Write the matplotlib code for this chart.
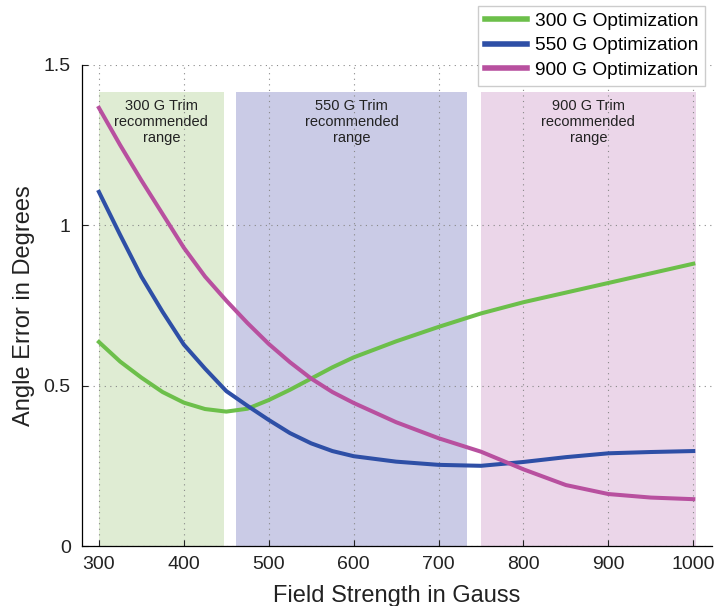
import matplotlib
matplotlib.use("Agg")
import matplotlib.pyplot as plt

# field strength samples (Gauss)
field = [300, 325, 350, 375, 400, 425, 450, 475, 500, 525, 550, 575, 600,
         650, 700, 750, 800, 850, 900, 950, 1000]

# angle error for each optimization
err300 = [0.636, 0.575, 0.525, 0.48, 0.447, 0.427, 0.419, 0.428, 0.455, 0.487, 0.522,
          0.557, 0.588, 0.638, 0.683, 0.725, 0.76, 0.79, 0.82, 0.85, 0.88]
err550 = [1.104, 0.97, 0.84, 0.73, 0.628, 0.553, 0.483, 0.437, 0.393, 0.352, 0.32,
          0.296, 0.28, 0.263, 0.253, 0.25, 0.262, 0.277, 0.289, 0.293, 0.296]
err900 = [1.366, 1.25, 1.14, 1.035, 0.93, 0.84, 0.765, 0.695, 0.63, 0.573, 0.522,
          0.48, 0.446, 0.386, 0.336, 0.294, 0.239, 0.19, 0.162, 0.151, 0.146]

labels = ["300 G Optimization", "550 G Optimization", "900 G Optimization"]

# recommended trim ranges
rangeStart = [300, 462, 750]
rangeEnd = [447, 733, 1003]
rangeText = ["300 G Trim\nrecommended\nrange", "550 G Trim\nrecommended\nrange",
             "900 G Trim\nrecommended\nrange"]

lineColours = ["#6cbf4a", "#2e4fa6", "#b8509f"]
shadeColours = ["#dfecd3", "#cacbe6", "#ebd6e9"]

plt.rcParams['font.family'] = ['Liberation Sans', 'DejaVu Sans']

fig = plt.figure(figsize=(7.25, 6.06), dpi=100)
ax = fig.add_axes([0.113, 0.099, 0.869, 0.794])

shadeTop = 1.415
for s, e, txt, c in zip(rangeStart, rangeEnd, rangeText, shadeColours):
    ax.axvspan(s, e, ymin=0, ymax=shadeTop / 1.5, color=c, lw=0, zorder=0)
    ax.text((s + e) / 2, 1.395, txt, ha="center", va="top", fontsize=10.5,
            color="#222222", linespacing=1.2, zorder=1)

for y, c, lab in zip([err300, err550, err900], lineColours, labels):
    ax.plot(field, y, color=c, lw=2.9, label=lab, zorder=3)

ax.set_xlim(280, 1022)
ax.set_ylim(0, 1.5)
ax.set_xticks([300, 400, 500, 600, 700, 800, 900, 1000])
ax.set_yticks([0, 0.5, 1, 1.5])
ax.set_yticklabels(["0", "0.5", "1", "1.5"])
ax.grid(True, linestyle=(0, (1, 4)), color="#888888", lw=0.8, zorder=0.5)
ax.tick_params(direction="in", labelsize=14, length=4, width=0.8, colors="#222222")
ax.tick_params(axis="y", pad=8)
ax.tick_params(axis="x", pad=7)
for side in ["top", "right"]:
    ax.spines[side].set_visible(False)
for side in ["left", "bottom"]:
    ax.spines[side].set_linewidth(0.9)

ax.set_xlabel("Field Strength in Gauss", fontsize=17, color="#222222", labelpad=9)
ax.set_ylabel("Angle Error in Degrees", fontsize=17, color="#222222", labelpad=6)

leg = fig.legend(loc="upper right", bbox_to_anchor=(0.978, 0.997), fontsize=13.8,
                 handlelength=2.2, handletextpad=0.4, labelspacing=0.38,
                 borderpad=0.35, borderaxespad=0.2, fancybox=False, framealpha=1,
                 edgecolor="#cccccc")
for line in leg.get_lines():
    line.set_linewidth(4)

fig.savefig("out.png", dpi=100)
